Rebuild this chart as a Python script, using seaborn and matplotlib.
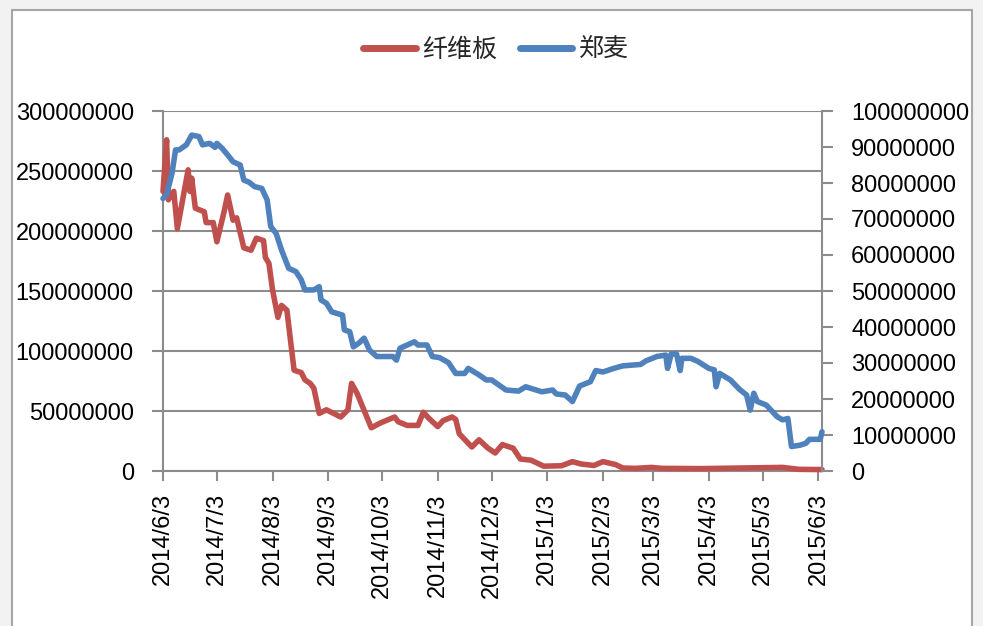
import matplotlib
matplotlib.use("Agg")
import matplotlib.pyplot as plt
from matplotlib.patches import Rectangle
from matplotlib.lines import Line2D
from matplotlib.ticker import FuncFormatter, MultipleLocator
import seaborn as sns
import pandas as pd

# ---------------- data ----------------
series_names = ["纤维板", "郑麦"]

tick_labels = ["2014/6/3", "2014/7/3", "2014/8/3", "2014/9/3", "2014/10/3",
               "2014/11/3", "2014/12/3", "2015/1/3", "2015/2/3", "2015/3/3",
               "2015/4/3", "2015/5/3", "2015/6/3"]

# 纤维板 (left axis), values in millions
fiber_dates = ["2014-06-03", "2014-06-05", "2014-06-06", "2014-06-09", "2014-06-11",
               "2014-06-17", "2014-06-18", "2014-06-19", "2014-06-21", "2014-06-26",
               "2014-06-27", "2014-07-01", "2014-07-03", "2014-07-07", "2014-07-09",
               "2014-07-12", "2014-07-14", "2014-07-18", "2014-07-22", "2014-07-25",
               "2014-07-29", "2014-07-30", "2014-08-01", "2014-08-03", "2014-08-06",
               "2014-08-08", "2014-08-11", "2014-08-15", "2014-08-19", "2014-08-21",
               "2014-08-24", "2014-08-26", "2014-08-29", "2014-09-02", "2014-09-10",
               "2014-09-14", "2014-09-16", "2014-09-19", "2014-09-27", "2014-10-02",
               "2014-10-10", "2014-10-12", "2014-10-17", "2014-10-23", "2014-10-26",
               "2014-10-29", "2014-11-03", "2014-11-06", "2014-11-11", "2014-11-13",
               "2014-11-15", "2014-11-22", "2014-11-26", "2014-12-01", "2014-12-05",
               "2014-12-09", "2014-12-15", "2014-12-19", "2014-12-25", "2015-01-01",
               "2015-01-11", "2015-01-17", "2015-01-22", "2015-01-29", "2015-02-03",
               "2015-02-10", "2015-02-14", "2015-02-21", "2015-03-02", "2015-03-08",
               "2015-03-30", "2015-04-21", "2015-05-14", "2015-05-23", "2015-06-05"]
fiber_mln = [233, 276, 226, 233, 202,
             251, 233, 244, 219, 216,
             207, 207, 191, 216, 230,
             209, 211, 186, 184, 194,
             192, 178, 173, 151, 128,
             138, 134, 84, 82, 76,
             73, 69, 48, 51, 45,
             51, 73, 65, 36, 40,
             45, 41, 38, 38, 49,
             44, 37, 42, 45, 43,
             31, 20, 26, 19, 15,
             22, 19, 10, 9, 4,
             4.4, 7.8, 5.8, 4.6, 7.8,
             5.4, 2.5, 2.2, 3, 2.2,
             2, 2.5, 3, 1.4, 1.2]

# 郑麦 (right axis), values in millions
wheat_dates = ["2014-06-03", "2014-06-05", "2014-06-08", "2014-06-10", "2014-06-12",
               "2014-06-16", "2014-06-19", "2014-06-23", "2014-06-25", "2014-06-29",
               "2014-07-02", "2014-07-03", "2014-07-06", "2014-07-09", "2014-07-12",
               "2014-07-16", "2014-07-18", "2014-07-21", "2014-07-24", "2014-07-28",
               "2014-07-31", "2014-08-02", "2014-08-05", "2014-08-08", "2014-08-12",
               "2014-08-16", "2014-08-19", "2014-08-21", "2014-08-26", "2014-08-29",
               "2014-08-30", "2014-09-02", "2014-09-05", "2014-09-11", "2014-09-12",
               "2014-09-15", "2014-09-17", "2014-09-20", "2014-09-23", "2014-09-26",
               "2014-09-30", "2014-10-09", "2014-10-11", "2014-10-13", "2014-10-17",
               "2014-10-21", "2014-10-23", "2014-10-28", "2014-10-31", "2014-11-04",
               "2014-11-09", "2014-11-13", "2014-11-18", "2014-11-20", "2014-11-26",
               "2014-11-30", "2014-12-03", "2014-12-11", "2014-12-18", "2014-12-22",
               "2014-12-31", "2015-01-06", "2015-01-08", "2015-01-13", "2015-01-17",
               "2015-01-21", "2015-01-27", "2015-01-30", "2015-02-03", "2015-02-09",
               "2015-02-14", "2015-02-24", "2015-02-27", "2015-03-05", "2015-03-10",
               "2015-03-11", "2015-03-13", "2015-03-16", "2015-03-18", "2015-03-19",
               "2015-03-24", "2015-03-28", "2015-04-03", "2015-04-06", "2015-04-07",
               "2015-04-09", "2015-04-15", "2015-04-20", "2015-04-24", "2015-04-26",
               "2015-04-28", "2015-04-30", "2015-05-05", "2015-05-11", "2015-05-14",
               "2015-05-17", "2015-05-19", "2015-05-24", "2015-05-27", "2015-05-29",
               "2015-06-04", "2015-06-05"]
wheat_mln = [75.7, 76.7, 82.7, 89.2, 89.2,
             90.6, 93.3, 92.9, 90.6, 91.0,
             89.9, 91.0, 89.6, 87.8, 85.9,
             85.0, 80.8, 80.2, 79.0, 78.5,
             75.3, 67.9, 66.0, 61.4, 56.3,
             55.4, 53.1, 50.3, 50.3, 51.2,
             47.5, 46.6, 44.2, 43.3, 39.2,
             38.7, 34.5, 35.5, 36.9, 33.6,
             31.8, 31.8, 30.8, 34.1, 35.0,
             35.9, 35.0, 35.0, 31.8, 31.5,
             30.1, 27.1, 27.1, 28.5, 26.7,
             25.3, 25.3, 22.5, 22.2, 23.4,
             22.0, 22.5, 21.4, 21.1, 19.3,
             23.6, 24.8, 27.9, 27.5, 28.5,
             29.2, 29.6, 30.6, 31.8, 32.2,
             28.5, 32.5, 32.5, 27.9, 31.3,
             31.3, 30.4, 28.5, 28.1, 23.4,
             27.1, 25.3, 22.7, 21.1, 16.9,
             21.6, 19.3, 18.3, 15.1, 14.2,
             14.6, 6.8, 7.2, 7.7, 8.8,
             8.8, 10.9]

left_max = 300_000_000
left_step = 50_000_000
right_max = 100_000_000
right_step = 10_000_000

# ---------------- styling ----------------
RED = "#C0504D"
BLUE = "#4F81BD"
GRAY = "#8c8c8c"

sns.set_style("white")
plt.rcParams["font.family"] = ["Liberation Sans", "Noto Sans CJK SC", "DejaVu Sans"]

fiber_df = pd.DataFrame({"date": pd.to_datetime(fiber_dates),
                         "value": [v * 1e6 for v in fiber_mln]})
wheat_df = pd.DataFrame({"date": pd.to_datetime(wheat_dates),
                         "value": [v * 1e6 for v in wheat_mln]})
tick_dates = pd.to_datetime(tick_labels, format="%Y/%m/%d")

W, H = 983, 626
fig = plt.figure(figsize=(W / 100, H / 100), dpi=100, facecolor="#f2f2f2")
fig.patches.append(Rectangle((12 / W, -0.05), 960 / W, 1.05 - 10 / H,
                             transform=fig.transFigure, facecolor="white",
                             edgecolor="#a6a6a6", linewidth=1.5, zorder=-5))

ax = fig.add_axes([163 / W, 1 - 471 / H, 659 / W, 360 / H])
ax.set_facecolor("white")
ax2 = ax.twinx()

sns.lineplot(data=fiber_df, x="date", y="value", ax=ax, color=RED,
             linewidth=4.0, legend=False, solid_capstyle="round",
             solid_joinstyle="round", zorder=3, clip_on=False)
sns.lineplot(data=wheat_df, x="date", y="value", ax=ax2, color=BLUE,
             linewidth=4.0, legend=False, solid_capstyle="round",
             solid_joinstyle="round", zorder=3, clip_on=False)

ax.set_xlim(pd.Timestamp("2014-06-03"), pd.Timestamp("2015-06-05"))
ax.set_ylim(0, left_max)
ax2.set_ylim(0, right_max)
ax.yaxis.set_major_locator(MultipleLocator(left_step))
ax2.yaxis.set_major_locator(MultipleLocator(right_step))
fmt = FuncFormatter(lambda v, p: f"{int(round(v))}")
ax.yaxis.set_major_formatter(fmt)
ax2.yaxis.set_major_formatter(fmt)

ax.set_xticks(tick_dates)
ax.set_xticklabels(tick_labels, rotation=90, fontsize=17)

ax.set_xlabel("")
ax.set_ylabel("")
ax2.set_ylabel("")

ax.yaxis.grid(True, color=GRAY, linewidth=1.5)
ax.set_axisbelow(True)

for s in ["top", "right"]:
    ax.spines[s].set_visible(False)
for s in ["top", "left", "bottom"]:
    ax2.spines[s].set_visible(False)
for sp in [ax.spines["left"], ax.spines["bottom"], ax2.spines["right"]]:
    sp.set_color(GRAY)
    sp.set_linewidth(1.5)

ax.tick_params(axis="x", direction="out", length=7, width=1.5, color=GRAY,
               pad=9, labelsize=17, labelcolor="black", bottom=True)
ax.tick_params(axis="y", direction="out", length=8, width=1.5, color=GRAY,
               pad=13, labelsize=17, labelcolor="black", left=True)
ax2.tick_params(axis="y", direction="out", length=8, width=1.5, color=GRAY,
                pad=13, labelsize=17, labelcolor="black", right=True)

handles = [Line2D([0], [0], color=RED, lw=5, solid_capstyle="round"),
           Line2D([0], [0], color=BLUE, lw=5, solid_capstyle="round")]
fig.legend(handles, series_names, loc="center",
           bbox_to_anchor=(496 / W, 1 - 50 / H), ncol=2, frameon=False,
           handlelength=2.1, handletextpad=0.25, columnspacing=0.9,
           prop={"family": ["Noto Sans CJK SC", "DejaVu Sans"], "size": 18})

fig.savefig("out.png", dpi=100, facecolor=fig.get_facecolor())
